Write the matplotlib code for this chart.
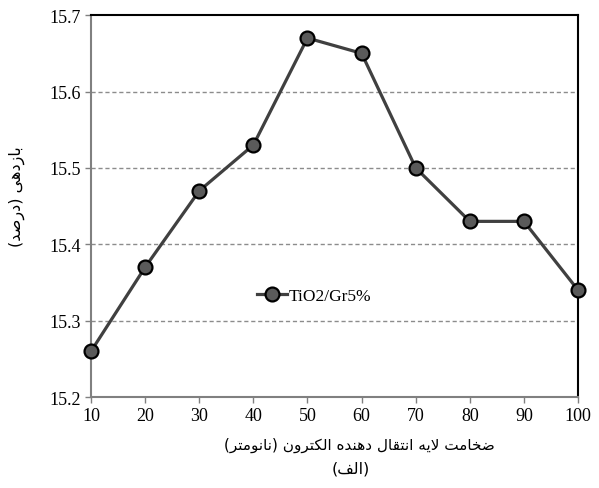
import matplotlib
matplotlib.use('Agg')
import matplotlib.pyplot as plt

thickness = [10, 20, 30, 40, 50, 60, 70, 80, 90, 100]
efficiency = [15.26, 15.37, 15.47, 15.53, 15.67, 15.65, 15.50, 15.43, 15.43, 15.34]
series_name = 'TiO2/Gr5%'
xlabel_fa = 'ضخامت لایه انتقال دهنده الکترون (نانومتر)'
ylabel_fa = 'بازدهی (درصد)'
caption_fa = '(الف)'

# presentation forms: (isolated, final, initial, medial); right-joining letters have 2
FORMS = {
    'ا': ('\uFE8D', '\uFE8E'),
    'ب': ('\uFE8F', '\uFE90', '\uFE91', '\uFE92'),
    'ت': ('\uFE95', '\uFE96', '\uFE97', '\uFE98'),
    'خ': ('\uFEA5', '\uFEA6', '\uFEA7', '\uFEA8'),
    'د': ('\uFEA9', '\uFEAA'),
    'ر': ('\uFEAD', '\uFEAE'),
    'ز': ('\uFEAF', '\uFEB0'),
    'ص': ('\uFEB9', '\uFEBA', '\uFEBB', '\uFEBC'),
    'ض': ('\uFEBD', '\uFEBE', '\uFEBF', '\uFEC0'),
    'ف': ('\uFED1', '\uFED2', '\uFED3', '\uFED4'),
    'ق': ('\uFED5', '\uFED6', '\uFED7', '\uFED8'),
    'ک': ('\uFB8E', '\uFB8F', '\uFB90', '\uFB91'),
    'ل': ('\uFEDD', '\uFEDE', '\uFEDF', '\uFEE0'),
    'م': ('\uFEE1', '\uFEE2', '\uFEE3', '\uFEE4'),
    'ن': ('\uFEE5', '\uFEE6', '\uFEE7', '\uFEE8'),
    'ه': ('\uFEE9', '\uFEEA', '\uFEEB', '\uFEEC'),
    'و': ('\uFEED', '\uFEEE'),
    'ی': ('\uFBFC', '\uFBFD', '\uFBFE', '\uFBFF'),
}


def rtl(text):
    out = []
    i = 0
    n = len(text)
    while i < n:
        ch = text[i]
        if ch not in FORMS:
            out.append(ch)
            i += 1
            continue
        prev = text[i - 1] if i > 0 else ''
        join_prev = prev in FORMS and len(FORMS[prev]) == 4
        if ch == 'ل' and i + 1 < n and text[i + 1] == 'ا':
            out.append('\uFEFC' if join_prev else '\uFEFB')
            i += 2
            continue
        nxt = text[i + 1] if i + 1 < n else ''
        f = FORMS[ch]
        join_next = len(f) == 4 and nxt in FORMS
        if join_prev and join_next:
            out.append(f[3])
        elif join_next:
            out.append(f[2])
        elif join_prev:
            out.append(f[1])
        else:
            out.append(f[0])
        i += 1
    s = ''.join(reversed(out))
    return s.translate(str.maketrans('()', ')('))


plt.rcParams['font.family'] = ['Liberation Serif', 'DejaVu Sans']
fa_font = ['DejaVu Sans']

fig = plt.figure(figsize=(5.99, 4.89), dpi=100)
ax = fig.add_axes([0.152, 0.186, 0.813, 0.781])

ax.plot(thickness, efficiency, color='#404040', lw=2.3, marker='o', ms=10,
        mfc='#5a5a5a', mec='black', mew=1.6, label=series_name, zorder=3,
        clip_on=False)

ax.set_xlim(10, 100)
ax.set_ylim(15.2, 15.7)
ax.set_xticks(thickness)
ax.set_yticks([15.2, 15.3, 15.4, 15.5, 15.6, 15.7])
ax.set_yticklabels(['15.2', '15.3', '15.4', '15.5', '15.6', '15.7'])
ax.tick_params(labelsize=13, length=4, width=1, color='#808080', direction='out')
for y in [15.3, 15.4, 15.5, 15.6]:
    ax.axhline(y, color='#8c8c8c', lw=1, ls=(0, (3, 2)), zorder=1)

ax.spines['left'].set_color('#808080')
ax.spines['bottom'].set_color('#808080')
for side in ['left', 'bottom', 'top', 'right']:
    ax.spines[side].set_linewidth(1.5)

ax.legend(loc='center', bbox_to_anchor=(0.458, 0.264), frameon=False,
          fontsize=12.5, handlelength=1.7, handletextpad=0.1)

fig.text(0.60, 0.089, rtl(xlabel_fa), ha='center', va='center', fontsize=11, family=fa_font)
fig.text(0.585, 0.04, rtl(caption_fa), ha='center', va='center', fontsize=11.5, family=fa_font)
fig.text(0.028, 0.597, rtl(ylabel_fa), ha='center', va='center', rotation=90, fontsize=11.5, family=fa_font)

fig.savefig('out.png', dpi=100)
